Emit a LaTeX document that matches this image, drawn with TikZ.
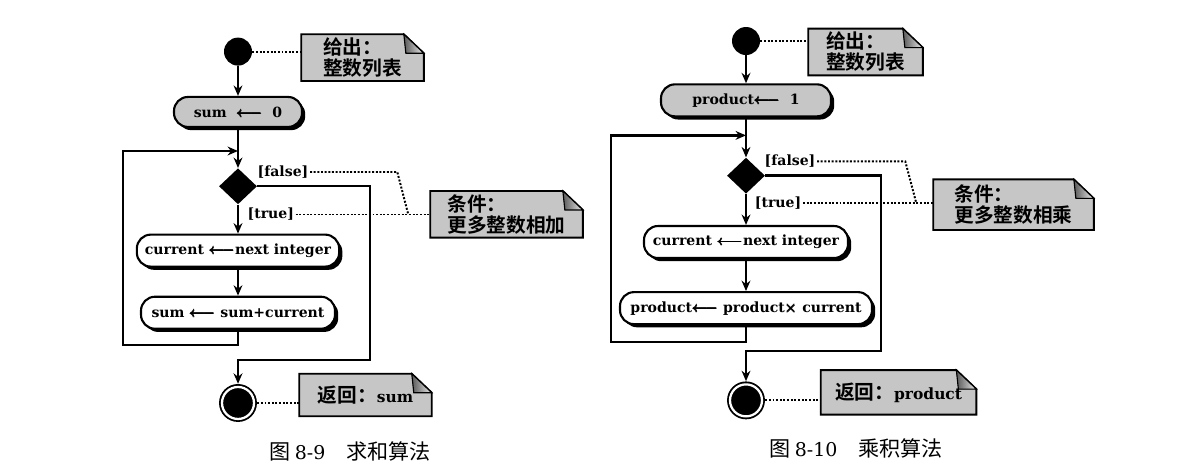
\documentclass[tikz,border=0pt]{standalone}
\usepackage{fontspec}
\newfontfamily\cjk{Noto Sans CJK SC}[BoldFont={Noto Sans CJK SC Bold}]
\newfontfamily\latfont{DejaVu Serif}
\usepackage{amsmath}
\usepackage{tikz}
\usetikzlibrary{shapes.geometric,shapes.misc,arrows.meta,positioning,calc,backgrounds,shadows}
\newcommand\flowfont{\latfont\bfseries\boldmath\fontsize{10}{12}\selectfont}
\newcommand\getsarrow{$\pmb{\longleftarrow}$}
\tikzset{
  % initial / final state
  startdot/.style={circle, fill=black, minimum size=7mm, inner sep=0pt},
  enddot/.style={circle, fill=black, draw=black, line width=1.3pt, double=white,
                 double distance=1.6pt, minimum size=8mm, inner sep=0pt, outer sep=0.8mm},
  % action box: rounded, black drop shadow
  action/.style={draw, rectangle, rounded corners=3.5mm, fill=white, line width=1.5pt,
                 minimum height=8mm, inner xsep=2mm, font=\flowfont,
                 drop shadow={shadow xshift=0.8mm, shadow yshift=-0.8mm, fill=black, opacity=1}},
  action-init/.style={action, fill=gray!45},
  decision/.style={diamond, fill=black, minimum width=9.5mm, minimum height=9mm, inner sep=0pt},
  guard/.style={font=\flowfont, inner sep=1pt},
  % comment note with folded corner
  notebox/.style={align=left, font=\cjk\bfseries\fontsize{14}{15}\selectfont,
                  minimum height=11.5mm, inner xsep=4mm, inner ysep=0.8mm},
  notepaper/.style={fill=gray!45, draw=black, line width=1.3pt},
  notefold/.style={left color=gray!70!black, right color=gray!15, draw=black, line width=0.8pt},
  % connectors
  flow/.style={-{Stealth[length=2.6mm,width=2.2mm]}, line width=1.7pt},
  noteline/.style={line width=1.4pt, dash pattern=on 1.4pt off 1.2pt},
  figcap/.style={font=\cjk\fontsize{15}{17}\selectfont, inner sep=0pt}
}

\begin{document}
\begin{tikzpicture}[node distance=8mm]
\useasboundingbox (0,0) rectangle (298.5mm,-118.5mm);

% ============== LEFT: sum ==============
\node[startdot] (lstart) at (59.5mm,-12.9mm) {};
\node[action-init, minimum width=32mm, minimum height=7.5mm, below=7.5mm of lstart] (linit)
  {sum\ \ \getsarrow\ \ 0};
\node[decision, below=10mm of linit] (ldec) {};
\node[action, minimum width=49mm, below=7.25mm of ldec] (lcur)
  {current \getsarrow next integer};
\node[action, minimum width=48.5mm, below=7mm of lcur] (lsum)
  {sum \getsarrow\ sum+current};
\node[enddot, below=13.5mm of lsum] (lend) {};
\coordinate[below=5.75mm of linit] (lmerge);

\draw[flow] (lstart) -- (linit);
\draw[flow] (linit) -- (ldec);
\draw[flow] (ldec) -- (lcur);
\draw[flow] (lcur) -- (lsum);
\draw[flow] (lsum.south) -- ++(0,-3.75mm) -- ++(-28.75mm,0) |- (lmerge);
\draw[flow] (ldec.east) -- ++(28.25mm,0) |- ([yshift=-7.5mm]lsum.south) -- (lend);

\node[guard, right=4.5mm of ldec.north, yshift=-1mm] (lfalse) {[false]};
\node[guard, below right=0.5mm and 2mm of ldec.south] (ltrue) {[true]};

% notes
\node[notebox, minimum width=30.5mm, right=12.25mm of lstart, yshift=-1.5mm] (lgiven) {给出：\\整数列表};
\node[notebox, minimum width=38mm, right=43.25mm of ldec, yshift=-7mm] (lcond) {条件：\\更多整数相加};
\node[notebox, minimum width=33mm, minimum height=10.5mm, right=10.5mm of lend, yshift=2mm] (lret)
  {返回：{\latfont\fontsize{11}{13}\selectfont sum}};

\draw[noteline] (lstart) -- (lstart -| lgiven.west);
\draw[noteline] (lend) -- (lend -| lret.west);
\draw[noteline] (ltrue.east) -- (ltrue.east -| lcond.west);
\draw[noteline] (lfalse.east) -- ($(lfalse.east -| lcond.west)+(-8.25mm,0)$)
  -- ($(ltrue.east -| lcond.west)+(-5.5mm,0)$);

\node[figcap, below=4.75mm of lend, xshift=28mm] (lcap) {图 {\latfont\fontsize{13.5}{15}\selectfont 8-9}\quad 求和算法};

% ============== RIGHT: product ==============
\node[startdot] (rstart) at (186.5mm,-10.25mm) {};
\node[action-init, minimum width=42.5mm, below=7mm of rstart] (rinit)
  {product\getsarrow\ \ 1};
\node[decision, below=10mm of rinit] (rdec) {};
\node[action, minimum width=51mm, below=7.75mm of rdec] (rcur)
  {current \getsarrow next integer};
\node[action, minimum width=63mm, below=8mm of rcur] (rprod)
  {product\getsarrow\ product$\pmb{\times}$ current};
\node[enddot, below=14mm of rprod] (rend) {};
\coordinate[below=4.5mm of rinit] (rmerge);

\draw[flow] (rstart) -- (rinit);
\draw[flow] (rinit) -- (rdec);
\draw[flow] (rdec) -- (rcur);
\draw[flow] (rcur) -- (rprod);
\draw[flow] (rprod.south) -- ++(0,-4.25mm) -- ++(-33.75mm,0) |- (rmerge);
\draw[flow] (rdec.east) -- ++(29mm,0) |- ([yshift=-6.5mm]rprod.south) -- (rend);

\node[guard, right=4.25mm of rdec.north, yshift=-1mm] (rfalse) {[false]};
\node[guard, below right=0.3mm and 1.8mm of rdec.south] (rtrue) {[true]};

% notes
\node[notebox, minimum width=28.5mm, right=12mm of rstart, yshift=-2.75mm] (rgiven) {给出：\\整数列表};
\node[notebox, minimum width=40mm, minimum height=12.5mm, right=42mm of rdec, yshift=-7.25mm] (rcond) {条件：\\更多整数相乘};
\node[notebox, minimum width=38.75mm, minimum height=11mm, inner xsep=2.5mm, right=13.9mm of rend, yshift=2mm] (rret)
  {返回：{\latfont\fontsize{11}{13}\selectfont product}};

\draw[noteline] (rstart) -- (rstart -| rgiven.west);
\draw[noteline] (rend) -- (rend -| rret.west);
\draw[noteline] (rtrue.east) -- (rtrue.east -| rcond.west);
\draw[noteline] (rfalse.east) -- ($(rfalse.east -| rcond.west)+(-7mm,0)$)
  -- ($(rtrue.east -| rcond.west)+(-4.25mm,0)$);

\node[figcap, below=4.75mm of rend, xshift=27.5mm] (rcap) {图 {\latfont\fontsize{13.5}{15}\selectfont 8-10}\quad 乘积算法};

% note outlines with folded corner
\begin{scope}[on background layer]
\foreach \n in {lgiven,lcond,lret,rgiven,rcond,rret}{
  \filldraw[notepaper] (\n.north west) -- ([xshift=-5mm]\n.north east)
    -- ([yshift=-4.75mm]\n.north east) -- (\n.south east) -- (\n.south west) -- cycle;
  \filldraw[notefold] ([xshift=-5mm]\n.north east) -- ([xshift=-4.5mm,yshift=-4.75mm]\n.north east)
    -- ([yshift=-4.75mm]\n.north east) -- cycle;
}
\end{scope}

\end{tikzpicture}
\end{document}
